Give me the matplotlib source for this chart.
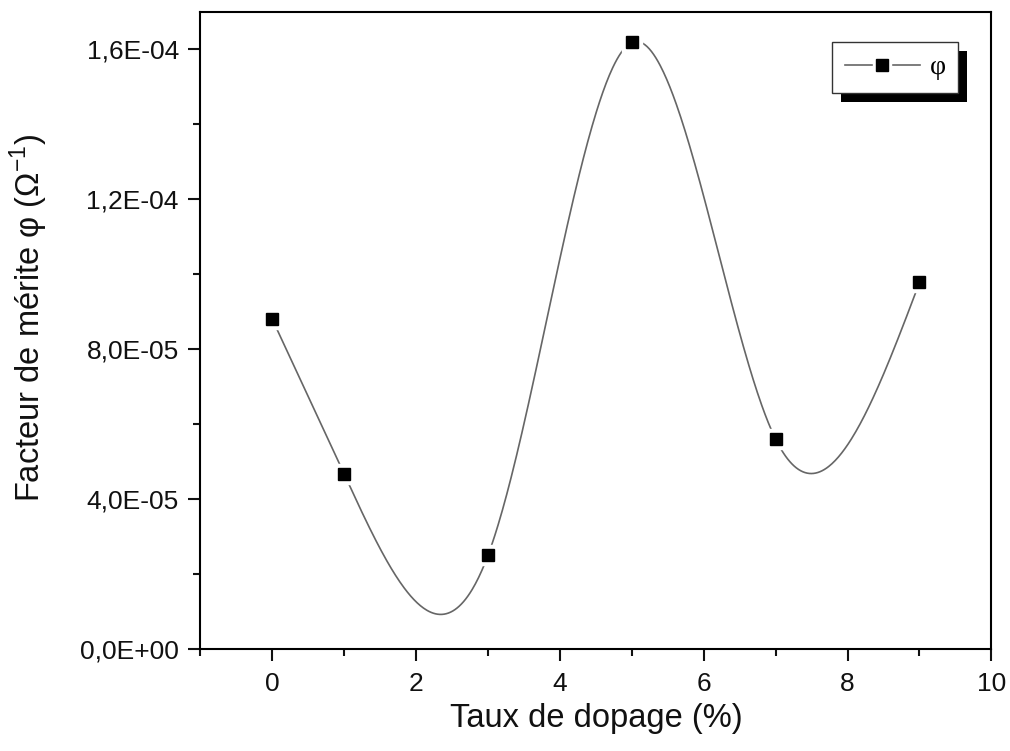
import numpy as np
import matplotlib
matplotlib.use('Agg')
import matplotlib.pyplot as plt
from matplotlib.ticker import MultipleLocator, FuncFormatter
from matplotlib.patches import Rectangle
from matplotlib.legend_handler import HandlerTuple
from matplotlib.lines import Line2D

# ---- data ----
doping = [0, 1, 3, 5, 7, 9]
merit = [8.80e-5, 4.67e-5, 2.51e-5, 1.618e-4, 5.60e-5, 9.78e-5]
series_label = "φ"
x_label = "Taux de dopage (%)"
y_label = "Facteur de mérite φ (Ω$^{\\mathregular{-1}}$)"

plt.rcParams['font.family'] = ['Liberation Sans', 'DejaVu Sans']
plt.rcParams['mathtext.fontset'] = 'custom'
plt.rcParams['mathtext.rm'] = 'Liberation Sans'


def natural_cubic(xk, yk, xs):
    xk = np.asarray(xk, float)
    yk = np.asarray(yk, float)
    n = len(xk)
    h = np.diff(xk)
    A = np.zeros((n, n))
    rhs = np.zeros(n)
    A[0, 0] = 1
    A[-1, -1] = 1
    for i in range(1, n - 1):
        A[i, i - 1] = h[i - 1]
        A[i, i] = 2 * (h[i - 1] + h[i])
        A[i, i + 1] = h[i]
        rhs[i] = 3 * ((yk[i + 1] - yk[i]) / h[i] - (yk[i] - yk[i - 1]) / h[i - 1])
    c = np.linalg.solve(A, rhs)
    b = (yk[1:] - yk[:-1]) / h - h * (2 * c[:-1] + c[1:]) / 3
    d = (c[1:] - c[:-1]) / (3 * h)
    idx = np.clip(np.searchsorted(xk, xs) - 1, 0, n - 2)
    t = xs - xk[idx]
    return yk[idx] + b[idx] * t + c[idx] * t ** 2 + d[idx] * t ** 3


fig = plt.figure(figsize=(10.1, 7.51), dpi=100)
ax = fig.add_axes([200.4 / 1010, (751 - 649.3) / 751, 791 / 1010, 637.6 / 751])

xs = np.linspace(min(doping), max(doping), 600)
ys = natural_cubic(doping, merit, xs)

line_color = '#666666'
ax.plot(xs, ys, color=line_color, lw=1.2, zorder=2)
ax.plot(doping, merit, linestyle='none', marker='s', ms=15, mfc='white', mec='white', zorder=3)
ax.plot(doping, merit, linestyle='none', marker='s', ms=8, mfc='black', mec='black', zorder=4)

ax.set_xlim(-1, 10)
ax.set_ylim(0, 1.7e-4)
ax.xaxis.set_major_locator(MultipleLocator(2))
ax.xaxis.set_minor_locator(MultipleLocator(1))
ax.yaxis.set_major_locator(MultipleLocator(4e-5))
ax.yaxis.set_minor_locator(MultipleLocator(2e-5))
ax.yaxis.set_major_formatter(FuncFormatter(lambda v, p: f"{v:.1E}".replace('.', ',')))

for s in ax.spines.values():
    s.set_linewidth(1.5)
ax.tick_params(which='both', direction='out', width=1.5, top=False, right=False, colors='#111111')
ax.tick_params(which='major', length=8.5, labelsize=19)
ax.tick_params(axis='x', which='major', pad=8)
ax.tick_params(axis='y', which='major', pad=7)
ax.tick_params(which='minor', length=5)

ax.set_xlabel(x_label, fontsize=23.5, color='#111111')
ax.set_ylabel(y_label, fontsize=23.5, color='#111111')
ax.xaxis.set_label_coords(0.5007, -0.085)
ax.yaxis.set_label_coords(-0.19, 0.52)

# legend
h_line = Line2D([], [], color=line_color, lw=1.2)
h_white = Line2D([], [], linestyle='none', marker='s', ms=13, mfc='white', mec='white')
h_black = Line2D([], [], linestyle='none', marker='s', ms=8, mfc='black', mec='black')
leg = ax.legend([(h_line, h_white, h_black)], [series_label],
                handler_map={tuple: HandlerTuple(ndivide=1)},
                loc='upper right', bbox_to_anchor=(0.958, 0.952),
                borderaxespad=0, fancybox=False, framealpha=1,
                edgecolor='#333333', handlelength=2.7, handletextpad=0.35,
                borderpad=0.45, prop={'family': 'Liberation Serif', 'size': 20})
leg.get_frame().set_linewidth(1.0)
leg.set_zorder(6)

fig.canvas.draw()
bb = leg.get_window_extent(fig.canvas.get_renderer())
off = 9
inv = ax.transAxes.inverted()
(x0, y0) = inv.transform((bb.x0 + off, bb.y0 - off))
(x1, y1) = inv.transform((bb.x1 + off, bb.y1 - off))
ax.add_patch(Rectangle((x0, y0), x1 - x0, y1 - y0, transform=ax.transAxes,
                       facecolor='black', edgecolor='none', zorder=5.5, clip_on=False))

fig.savefig('out.png', dpi=100)
